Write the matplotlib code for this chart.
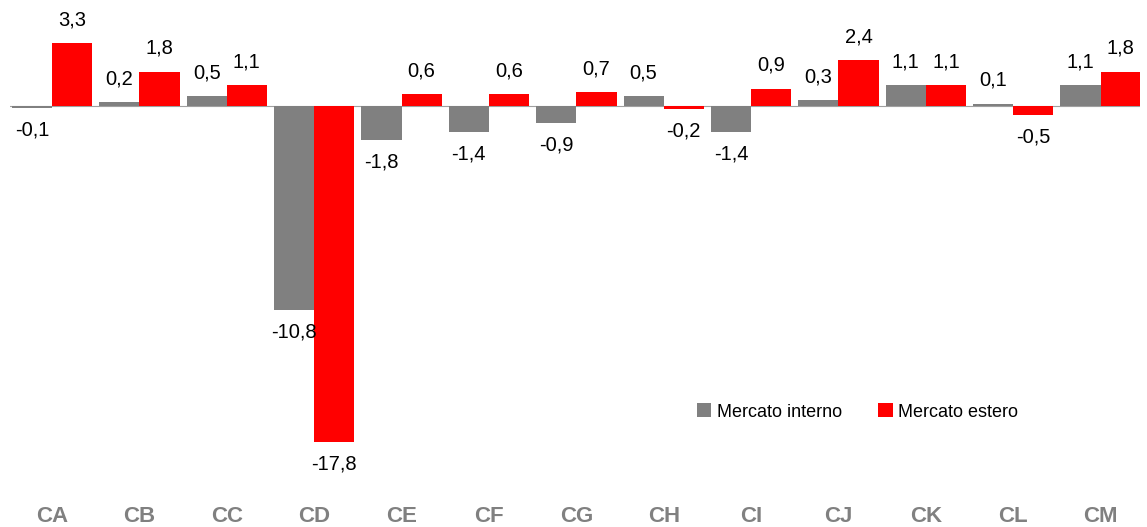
import numpy as np
import matplotlib.pyplot as plt

plt.rcParams['font.family'] = ['Liberation Sans Narrow', 'Liberation Sans', 'DejaVu Sans']

categories = ['CA', 'CB', 'CC', 'CD', 'CE', 'CF', 'CG', 'CH', 'CI', 'CJ', 'CK', 'CL', 'CM']
interno = [-0.1, 0.2, 0.5, -10.8, -1.8, -1.4, -0.9, 0.5, -1.4, 0.3, 1.1, 0.1, 1.1]
estero = [3.3, 1.8, 1.1, -17.8, 0.6, 0.6, 0.7, -0.2, 0.9, 2.4, 1.1, -0.5, 1.8]

fig = plt.figure(figsize=(11.47, 5.27), dpi=100)
ax = fig.add_axes([10/1147, 57/527, 1130/1147, 470/527])

x = np.arange(len(categories))
w = 0.46
b1 = ax.bar(x - w/2, interno, w, color='#808080', label='Mercato interno')
b2 = ax.bar(x + w/2, estero, w, color='#ff0000', label='Mercato estero')
ax.axhline(0, color='#a0a0a0', lw=0.8, zorder=0)

def fmt(v):
    return ('%.1f' % v).replace('.', ',')

for bars, vals in [(b1, interno), (b2, estero)]:
    for b, v in zip(bars, vals):
        cx = b.get_x() + b.get_width() / 2
        if v >= 0:
            ax.annotate(fmt(v), (cx, v), xytext=(0, 10), textcoords='offset points',
                        ha='center', va='bottom', fontsize=14.5)
        else:
            ax.annotate(fmt(v), (cx, v), xytext=(0, -9), textcoords='offset points',
                        ha='center', va='top', fontsize=14.5)

ax.set_xlim(-0.48, 12.45)
ax.set_ylim(-19.3, 5.6)
ax.set_xticks(x)
ax.set_xticklabels(categories, fontsize=16, fontweight='bold', color='#808080')
ax.tick_params(axis='x', length=0, pad=26)
ax.set_yticks([])
for s in ax.spines.values():
    s.set_visible(False)

fig.legend(loc='center left', bbox_to_anchor=(697/1147, 1 - 412/527), ncol=2,
           frameon=False, fontsize=13, handlelength=0.8, handleheight=0.8,
           handletextpad=0.3, columnspacing=2.0, borderpad=0, borderaxespad=0)

fig.savefig('out.png', dpi=100)
